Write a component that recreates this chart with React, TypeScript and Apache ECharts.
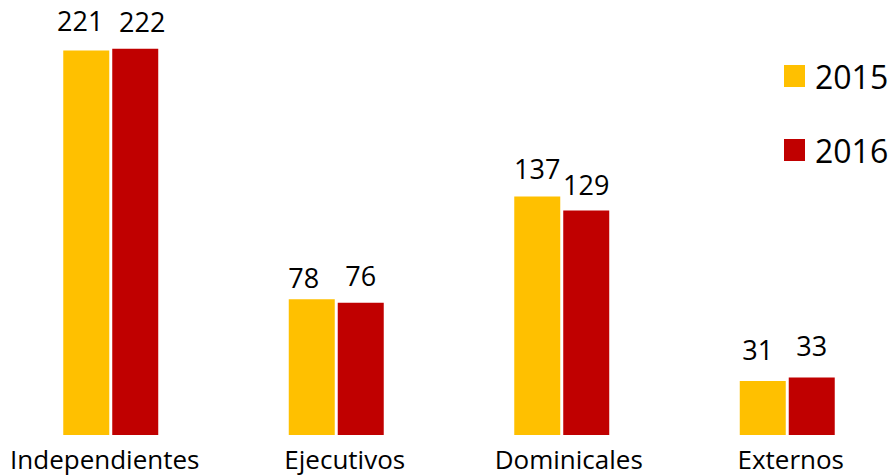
import React, { useEffect, useRef } from "react";
import * as echarts from "echarts";

const categories = ["Independientes", "Ejecutivos", "Dominicales", "Externos"];
const values2015 = [221, 78, 137, 31];
const values2016 = [222, 76, 129, 33];
const seriesNames = ["2015", "2016"];

const FONT = "'Open Sans', 'Noto Sans', sans-serif";

// manual nudges of the value labels, as in the source
const nudge2015: [number, number][] = [[-6, -2], [-8, 6], [0, -1], [-5, -4]];
const nudge2016: [number, number][] = [[7, 0], [0, 0], [0, 1], [0, -5]];
// horizontal shift of category labels (padding: [top, right, bottom, left])
const catPadding: number[][] = [[0, 12, 0, 0], [0, 0, 0, 17], [0, 0, 0, 14], [0, 0, 0, 7]];

export default function App() {
  const ref = useRef<HTMLDivElement>(null);
  useEffect(() => {
    if (!ref.current) return;
    const chart = echarts.init(ref.current, null, { renderer: "svg" });
    const label = {
      show: true,
      position: "top" as const,
      distance: 14,
      color: "#000",
      fontSize: 27,
      fontFamily: FONT,
    };
    const build = (vals: number[], nudges: [number, number][]) =>
      vals.map((v, i) => ({ value: v, label: { offset: nudges[i] } }));
    chart.setOption({
      animation: false,
      backgroundColor: "#fff",
      grid: { left: -2, right: -7, top: 0, bottom: 41, containLabel: false, outerBoundsMode: "none" },
      legend: {
        orient: "vertical",
        left: 784,
        top: 60,
        padding: 0,
        itemWidth: 21,
        itemHeight: 22,
        itemGap: 42,
        icon: "rect",
        textStyle: { fontSize: 32, fontFamily: FONT, color: "#000", padding: [0, 0, 0, 5] },
        data: seriesNames,
      },
      xAxis: {
        type: "category",
        data: categories.map((c, i) => ({ value: c, textStyle: { padding: catPadding[i] } })),
        axisLine: { show: false },
        axisTick: { show: false },
        axisLabel: { color: "#000", fontSize: 26, fontFamily: FONT, margin: 11, interval: 0 },
      },
      yAxis: {
        type: "value",
        min: 0,
        max: 250,
        show: false,
        splitLine: { show: false },
      },
      series: [
        {
          name: seriesNames[0],
          type: "bar",
          data: build(values2015, nudge2015),
          itemStyle: { color: "#FFC000" },
          barWidth: 46,
          barGap: "6.5%",
          label,
        },
        {
          name: seriesNames[1],
          type: "bar",
          data: build(values2016, nudge2016),
          itemStyle: { color: "#C00000" },
          barWidth: 46,
          barGap: "6.5%",
          label,
        },
      ],
    });
    return () => chart.dispose();
  }, []);
  return <div ref={ref} style={{ width: 893, height: 476, position: "absolute", left: 0, top: 0 }} />;
}
